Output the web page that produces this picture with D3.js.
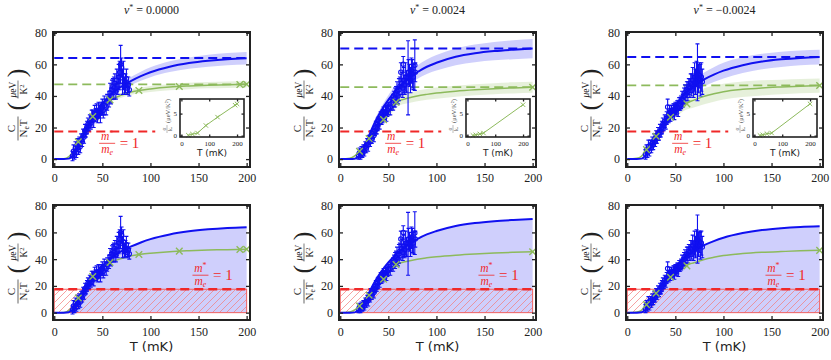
<!DOCTYPE html>
<html>
<head>
<meta charset="utf-8">
<script src="https://cdn.jsdelivr.net/npm/d3@7"></script>
<style>
  body { margin: 0; background: #fff; }
  svg { display: block; }
</style>
</head>
<body>
<svg id="chart" width="831" height="360"></svg>
<script>
// ---- values ----
const nuLabels = ["0.0000", "0.0024", "\u22120.0024"];
const xTicks = [0, 50, 100, 150, 200];
const yTicks = [0, 20, 40, 60, 80];
const insetXTicks = [0, 100, 200];
const insetYTicks = [0, 5];
const massLevel = 17.5;          // m*/m_e = 1 level
const massDashEndTop = 105;      // red dashed line end in top row
const blueLevels = [64, 70, 64.6];
const greenLevels = [47.3, 45.6, 46.7];

// measured points (T in mK, C/NeT, error)
const dataT1 = [19,20,21,22,23,24,25,26,27,28,29,30,31,32,33,34,35,36,37,38,39,40,41,42,43,44,45,46,47,48,49,50,51,52,54,55,57,58,59,60,61,62,63,64,65,66,67,68,69,70,71,72,73,74,75,76,77,78];
const dataC1 = [2,5,3,7,4,9,6,10,8,12,11,15,14,18,17,20,22,21,24,23,26,27,25,29,28,30,27,31,30,29,32,33,31,34,33,36,38,42,40,44,46,45,48,43,50,47,52,55,60,58,49,53,46,48,51,45,47,44];
const dataE1 = [3,4,3,4,3,4,3,4,4,4,3,4,4,4,3,4,4,3,4,4,5,4,5,5,4,5,4,5,4,6,4,5,5,6,5,5,5,6,5,6,5,7,6,5,7,6,8,7,12,6,8,9,5,6,6,4,5,4];

const dataT2 = [19,20,21,22,23,24,25,26,27,28,29,30,31,32,33,34,35,36,37,38,39,40,41,42,43,44,45,46,47,48,49,50,52,53,55,56,57,58,59,60,61,62,63,64,65,65.5,66,67,68,69,70.5,71,72,73,74,75,76,77.5,78];
const dataC2 = [2,4,3,5,3,6,5,8,7,10,9,12,11,14,13,16,15,18,20,19,22,24,23,26,25,27,29,28,30,29,31,32,33,35,36,38,39,41,43,40,44,46,55,48,45,60,50,47,52,49,51.5,55,53,50,56,54,52,59.5,55];
const dataE2 = [2,3,3,3,2,3,3,3,3,3,4,3,3,4,3,3,4,3,4,3,4,3,4,4,3,4,4,3,4,5,4,4,5,4,5,5,6,5,6,5,7,6,6,7,6,5,8,6,9,7,23.5,8,7,8,8,9,8,16,6];

const dataT3 = [19,20,21,22,23,24,25,26,27,28,29,30,31,32,33,34,35,36,37,38,39,40,41,42,43,44,45,46,47,48,49,50,51,52,53,54,55,56,57,58,59,60,61,62,63,64,65,66,67,68,69,70,71,72,73,74,75,76,77,78];
const dataC3 = [3,6,4,8,5,9,7,10,9,12,11,14,13,16,15,18,17,20,22,21,24,23,26,33,27,29,28,30,29,31,30,32,31,33,32,35,34,36,38,37,40,42,41,44,43,46,45,48,47,50,46,52,49,54,55,51,53,50,52,49];
const dataE3 = [3,3,3,4,3,3,3,4,3,4,3,4,3,4,3,4,3,4,4,3,4,4,4,5,4,5,4,4,3,4,5,4,3,4,5,4,3,4,5,4,5,5,4,5,6,5,6,6,7,8,7,9,8,8,18,9,8,10,9,8];

// fit curves, read at these temperatures
const fitT = [0,10,15,20,25,30,35,40,45,50,55,60,70,80,90,100,120,140,160,180,200];
const blueFit1  = [0,0,0.3,3,8.5,15,21,26.5,31,35,38.5,41.5,46,49.5,52.5,55,58.5,60.8,62.3,63.3,63.9];
const blueBand1 = [0,0,0.2,0.5,0.8,1,1.2,1.4,1.6,1.8,2,2.2,2.4,2.6,2.9,3.1,3.4,3.6,3.8,3.9,4];
const greenFit1  = [0,0.2,1.5,5,11,17,22.5,27,30.5,33.5,36,38,40.5,42.5,43.6,44.4,45.6,46.3,46.8,47.1,47.4];
const greenBand1 = [0,0,0.2,0.4,0.6,0.8,1,1.1,1.2,1.3,1.4,1.5,1.6,1.7,1.8,1.9,2,2,2,2,2];

const blueFit2  = [0,0,0.2,2.5,8,15,22,28,33,37.5,41.5,45,50.5,55,58.5,61,64.8,67,68.4,69.3,70];
const blueBand2 = [0,0,0.2,0.6,1,1.4,1.8,2.2,2.6,3,3.3,3.6,4,4.3,4.6,4.9,5.3,5.6,5.8,6,6.1];
const greenFit2  = [0,0.5,2,5,9,13,17,21,25,29,33,36.5,38.5,40,41,41.8,43,43.9,44.6,45.1,45.5];
const greenBand2 = [0,0,0.3,0.6,0.9,1.2,1.5,1.8,2.1,2.4,2.7,3,3.2,3.3,3.4,3.5,3.5,3.5,3.5,3.5,3.5];

const blueFit3  = [0,0,0.3,3,8,14,20,25,30,34,38,41.5,46.5,50.5,53.5,56,59.5,61.8,63.2,64.1,64.6];
const blueBand3 = [0,0,0.2,0.6,1,1.4,1.8,2.2,2.6,3,3.3,3.6,4,4.4,4.7,5,5,4.9,4.8,4.7,4.7];
const greenFit3  = [0,0.5,2,6,10,14.5,19,23,26.5,29.5,32.5,35,37.5,39.8,41.4,42.7,44.2,45.1,45.7,46.2,46.6];
const greenBand3 = [0,0,0.4,0.8,1.2,1.6,2,2.4,2.8,3.2,3.6,4,4.6,5,5,5,4.9,4.8,4.6,4.5,4.5];

// green markers (main plot) and the inset values at the same temperatures
const markT1 = [25,40,58,88,130,193,200];
const markC1 = [11,27,37.5,43.5,46,47.2,47.4];
const insetV1 = [0.1,0.35,0.6,2.3,4.2,6.9,7.2];
const markT2 = [20,30,45,58,200];
const markC2 = [5,13,25,36,45.5];
const insetV2 = [0.05,0.2,0.4,0.6,7.0];
const markT3 = [20,30,45,62,200];
const markC3 = [6,14.5,26.5,35,46.6];
const insetV3 = [0.05,0.2,0.45,0.6,7.2];

const panels = [
  {nu: nuLabels[0], T: dataT1, C: dataC1, E: dataE1, blue: blueFit1, blueBand: blueBand1, green: greenFit1, greenBand: greenBand1,
   markT: markT1, markC: markC1, inset: insetV1, blueLevel: blueLevels[0], greenLevel: greenLevels[0]},
  {nu: nuLabels[1], T: dataT2, C: dataC2, E: dataE2, blue: blueFit2, blueBand: blueBand2, green: greenFit2, greenBand: greenBand2,
   markT: markT2, markC: markC2, inset: insetV2, blueLevel: blueLevels[1], greenLevel: greenLevels[1]},
  {nu: nuLabels[2], T: dataT3, C: dataC3, E: dataE3, blue: blueFit3, blueBand: blueBand3, green: greenFit3, greenBand: greenBand3,
   markT: markT3, markC: markC3, inset: insetV3, blueLevel: blueLevels[2], greenLevel: greenLevels[2]}
];

// ---- layout ----
const svg = d3.select("#chart");
const blue = "#1010f0", green = "#8dba5c", red = "#f02828", ink = "#222";
const serif = "'Liberation Serif', 'DejaVu Serif', serif";
const sans = "'DejaVu Sans', sans-serif";
const panelLeft = [53, 339, 626];
const panelW = 197;
const rows = [
  {top: 32, bottom: 167, yDomain: [-5, 80.5]},
  {top: 205, bottom: 320, yDomain: [-5.5, 80.5]}
];
const xDomain = [-1.3, 203.5];

// hatch for the m*/m_e = 1 box
svg.append("defs").append("pattern")
  .attr("id", "hatch")
  .attr("patternUnits", "userSpaceOnUse")
  .attr("width", 7).attr("height", 7)
  .append("path")
  .attr("d", "M-1,1 l2,-2 M0,7 l7,-7 M6,8 l2,-2")
  .attr("stroke", "#f27a7a")
  .attr("stroke-width", 0.7);

function crossPath(s) {
  return `M${-s},${-s}L${s},${s}M${-s},${s}L${s},${-s}`;
}

function styleAxis(g, size) {
  g.select(".domain").remove();
  g.selectAll(".tick line").attr("stroke", ink).attr("stroke-width", 1.3);
  g.selectAll(".tick text").attr("font-family", serif).attr("font-size", size).attr("fill", ink);
}

function yLabel(cx, cy) {
  const g = svg.append("g")
    .attr("transform", `translate(${cx},${cy}) rotate(-90)`)
    .attr("font-family", serif)
    .attr("fill", ink);
  g.append("text").attr("x", -22).attr("y", -3).attr("text-anchor", "middle")
    .attr("font-size", 11).text("C");
  g.append("line").attr("x1", -34).attr("x2", -10).attr("y1", 0).attr("y2", 0)
    .attr("stroke", ink).attr("stroke-width", 0.7);
  const den = g.append("text").attr("x", -22).attr("y", 9).attr("text-anchor", "middle").attr("font-size", 11);
  den.append("tspan").text("N");
  den.append("tspan").attr("font-size", 7.5).attr("dy", 2).text("e");
  den.append("tspan").attr("dy", -2).text("T");

  g.append("text").attr("x", -4).attr("y", 6.5).attr("font-size", 26).text("(");
  g.append("text").attr("x", 38).attr("y", 6.5).attr("font-size", 26).attr("text-anchor", "end").text(")");
  const num = g.append("text").attr("x", 17).attr("y", -2.5).attr("text-anchor", "middle").attr("font-size", 9.5);
  num.append("tspan").attr("font-style", "italic").text("\u03bc");
  num.append("tspan").text("eV");
  g.append("line").attr("x1", 8).attr("x2", 26).attr("y1", 0).attr("y2", 0)
    .attr("stroke", ink).attr("stroke-width", 0.6);
  const k = g.append("text").attr("x", 17).attr("y", 9).attr("text-anchor", "middle").attr("font-size", 9.5);
  k.append("tspan").text("K");
  k.append("tspan").attr("font-size", 6.5).attr("dy", -3.5).text("2");
}

function massLabel(g, cx, cy) {
  const t = g.append("g").attr("font-family", serif).attr("fill", red);
  const num = t.append("text").attr("x", cx).attr("y", cy - 3.5).attr("text-anchor", "middle").attr("font-size", 11.5);
  num.append("tspan").attr("font-style", "italic").text("m");
  num.append("tspan").attr("font-size", 8).attr("dy", -4).text("*");
  t.append("line").attr("x1", cx - 8).attr("x2", cx + 8).attr("y1", cy).attr("y2", cy)
    .attr("stroke", red).attr("stroke-width", 0.8);
  const den = t.append("text").attr("x", cx).attr("y", cy + 10).attr("text-anchor", "middle").attr("font-size", 11.5);
  den.append("tspan").attr("font-style", "italic").text("m");
  den.append("tspan").attr("font-style", "italic").attr("font-size", 8).attr("dy", 1.5).text("e");
  t.append("text").attr("x", cx + 12.5).attr("y", cy + 5).attr("font-size", 15).text("= 1");
}

function drawInset(p, left) {
  const ix = d3.scaleLinear().domain([-5, 225]).range([left + 127, left + 191]);
  const iy = d3.scaleLinear().domain([-0.3, 8.3]).range([137, 99]);
  const g = svg.append("g");
  g.append("rect").attr("x", ix.range()[0]).attr("y", 99)
    .attr("width", 64).attr("height", 38).attr("fill", "#fff");

  const pts = p.markT.map((t, i) => ({t, v: p.inset[i]}));
  g.append("path").datum(pts)
    .attr("d", d3.line().x(d => ix(d.t)).y(d => iy(d.v)))
    .attr("fill", "none").attr("stroke", green).attr("stroke-width", 1);
  g.selectAll(".im").data(pts).join("path")
    .attr("transform", d => `translate(${ix(d.t)},${iy(d.v)})`)
    .attr("d", crossPath(2.2))
    .attr("stroke", green).attr("stroke-width", 1).attr("fill", "none");

  const ax = g.append("g").attr("transform", "translate(0,137)")
    .call(d3.axisBottom(ix).tickValues(insetXTicks).tickSizeInner(-2.5).tickSizeOuter(0).tickPadding(4));
  styleAxis(ax, 7);
  const axT = g.append("g").attr("transform", "translate(0,99)")
    .call(d3.axisTop(ix).tickValues(insetXTicks).tickSizeInner(-2.5).tickSizeOuter(0).tickFormat(""));
  styleAxis(axT, 7);
  const ay = g.append("g").attr("transform", `translate(${ix.range()[0]},0)`)
    .call(d3.axisLeft(iy).tickValues(insetYTicks).tickSizeInner(-2.5).tickSizeOuter(0).tickPadding(3));
  styleAxis(ay, 7);
  const ayR = g.append("g").attr("transform", `translate(${ix.range()[1]},0)`)
    .call(d3.axisRight(iy).tickValues(insetYTicks).tickSizeInner(-2.5).tickSizeOuter(0).tickFormat(""));
  styleAxis(ayR, 7);

  g.append("rect").attr("x", ix.range()[0]).attr("y", 99)
    .attr("width", 64).attr("height", 38)
    .attr("fill", "none").attr("stroke", ink).attr("stroke-width", 1.6);

  g.append("text").attr("x", left + 159).attr("y", 156).attr("text-anchor", "middle")
    .attr("font-family", sans).attr("font-size", 9).attr("fill", ink).text("T (mK)");

  // small rotated y label of the inset
  const yl = g.append("g").attr("transform", `translate(${left + 114},118) rotate(-90)`)
    .attr("font-family", serif).attr("fill", "#555").attr("font-size", 5.5);
  yl.append("text").attr("x", -11).attr("y", -1).attr("text-anchor", "middle").text("\u03b1");
  yl.append("line").attr("x1", -15).attr("x2", -7).attr("y1", 0).attr("y2", 0).attr("stroke", "#555").attr("stroke-width", 0.4);
  yl.append("text").attr("x", -11).attr("y", 5).attr("text-anchor", "middle").text("k\u2091");
  yl.append("text").attr("x", 7).attr("y", 3).attr("text-anchor", "middle").attr("font-size", 6.5).text("(\u03bceV/K\u00b2)");
}

function drawPanel(p, col, row) {
  const left = panelLeft[col], r = rows[row];
  const x = d3.scaleLinear().domain(xDomain).range([left, left + panelW]);
  const y = d3.scaleLinear().domain(r.yDomain).range([r.bottom, r.top]);
  const g = svg.append("g");

  const fit = fitT.map((t, i) => ({t, b: p.blue[i], bb: p.blueBand[i], gr: p.green[i], gb: p.greenBand[i]}));
  const line = acc => d3.line().x(d => x(d.t)).y(d => y(acc(d))).curve(d3.curveMonotoneX);
  const area = (lo, hi) => d3.area().x(d => x(d.t)).y0(d => y(lo(d))).y1(d => y(hi(d))).curve(d3.curveMonotoneX);

  if (row === 0) {
    g.append("path").datum(fit).attr("d", area(d => d.b - d.bb, d => d.b + d.bb))
      .attr("fill", blue).attr("opacity", 0.2);
    g.append("path").datum(fit).attr("d", area(d => d.gr - d.gb, d => d.gr + d.gb))
      .attr("fill", green).attr("opacity", 0.22);
    g.append("line").attr("x1", x(0)).attr("x2", x(200))
      .attr("y1", y(p.blueLevel)).attr("y2", y(p.blueLevel))
      .attr("stroke", blue).attr("stroke-width", 2).attr("stroke-dasharray", "9,5");
    g.append("line").attr("x1", x(0)).attr("x2", x(200))
      .attr("y1", y(p.greenLevel)).attr("y2", y(p.greenLevel))
      .attr("stroke", green).attr("stroke-width", 1.6).attr("stroke-dasharray", "9,5");
    g.append("line").attr("x1", x(0)).attr("x2", x(massDashEndTop))
      .attr("y1", y(massLevel)).attr("y2", y(massLevel))
      .attr("stroke", red).attr("stroke-width", 2).attr("stroke-dasharray", "9,5");
  } else {
    g.append("path").datum(fit).attr("d", area(() => 0, d => d.b))
      .attr("fill", blue).attr("opacity", 0.2);
    g.append("rect")
      .attr("x", x(0)).attr("y", y(massLevel))
      .attr("width", x(200) - x(0)).attr("height", y(0) - y(massLevel))
      .attr("fill", "url(#hatch)").attr("stroke", "#f06060").attr("stroke-width", 1);
    g.append("line").attr("x1", x(0)).attr("x2", x(200))
      .attr("y1", y(massLevel)).attr("y2", y(massLevel))
      .attr("stroke", red).attr("stroke-width", 2.4).attr("stroke-dasharray", "9,5");
  }

  g.append("path").datum(fit).attr("d", line(d => d.gr))
    .attr("fill", "none").attr("stroke", green).attr("stroke-width", 1.5);
  g.append("path").datum(fit).attr("d", line(d => d.b))
    .attr("fill", "none").attr("stroke", blue).attr("stroke-width", 2);

  // measured points with error bars
  const pts = p.T.map((t, i) => ({t, c: p.C[i], e: p.E[i]}));
  const eb = g.append("g").attr("stroke", blue).attr("stroke-width", 1.1).attr("fill", "none");
  eb.selectAll(".bar").data(pts).join("path")
    .attr("d", d => {
      const xt = x(d.t), y1 = y(d.c + d.e), y0 = y(d.c - d.e);
      return `M${xt},${y0}V${y1}M${xt - 2},${y1}H${xt + 2}M${xt - 2},${y0}H${xt + 2}`;
    });
  eb.selectAll("circle").data(pts).join("circle")
    .attr("cx", d => x(d.t)).attr("cy", d => y(d.c)).attr("r", 2.2);

  // green markers
  g.selectAll(".gm").data(p.markT.map((t, i) => ({t, c: p.markC[i]}))).join("path")
    .attr("transform", d => `translate(${x(d.t)},${y(d.c)})`)
    .attr("d", crossPath(3.3))
    .attr("stroke", green).attr("stroke-width", 1.4).attr("fill", "none");

  // m*/m_e = 1 label
  if (row === 0) massLabel(g, x(55), y(10));
  else massLabel(g, x(152), y(28));

  // axes (inside ticks on all four sides)
  const ax = g.append("g").attr("transform", `translate(0,${r.bottom})`)
    .call(d3.axisBottom(x).tickValues(xTicks).tickSizeInner(-4).tickSizeOuter(0).tickPadding(row === 0 ? 6.5 : 7.5));
  styleAxis(ax, 12);
  const axT = g.append("g").attr("transform", `translate(0,${r.top})`)
    .call(d3.axisTop(x).tickValues(xTicks).tickSizeInner(-4).tickSizeOuter(0).tickFormat(""));
  styleAxis(axT, 12);
  const ay = g.append("g").attr("transform", `translate(${left},0)`)
    .call(d3.axisLeft(y).tickValues(yTicks).tickSizeInner(-4).tickSizeOuter(0).tickPadding(6));
  styleAxis(ay, 12);
  const ayR = g.append("g").attr("transform", `translate(${left + panelW},0)`)
    .call(d3.axisRight(y).tickValues(yTicks).tickSizeInner(-4).tickSizeOuter(0).tickFormat(""));
  styleAxis(ayR, 12);

  g.append("rect").attr("x", left).attr("y", r.top)
    .attr("width", panelW).attr("height", r.bottom - r.top)
    .attr("fill", "none").attr("stroke", ink).attr("stroke-width", 2);

  yLabel(left - 35, (r.top + r.bottom) / 2 + 7);

  if (row === 0) {
    const title = svg.append("text")
      .attr("x", left + panelW / 2).attr("y", 13.5)
      .attr("text-anchor", "middle")
      .attr("font-family", serif).attr("font-size", 12).attr("fill", ink);
    title.append("tspan").attr("font-style", "italic").text("\u03bd");
    title.append("tspan").attr("font-size", 8).attr("dy", -4).text("*");
    title.append("tspan").attr("dy", 4).text(" = " + p.nu);
    drawInset(p, left);
  } else {
    svg.append("text")
      .attr("x", left + panelW / 2).attr("y", 351)
      .attr("text-anchor", "middle")
      .attr("font-family", sans).attr("font-size", 13).attr("fill", ink)
      .text("T (mK)");
  }
}

panels.forEach((p, col) => {
  drawPanel(p, col, 0);
  drawPanel(p, col, 1);
});
</script>
</body>
</html>
